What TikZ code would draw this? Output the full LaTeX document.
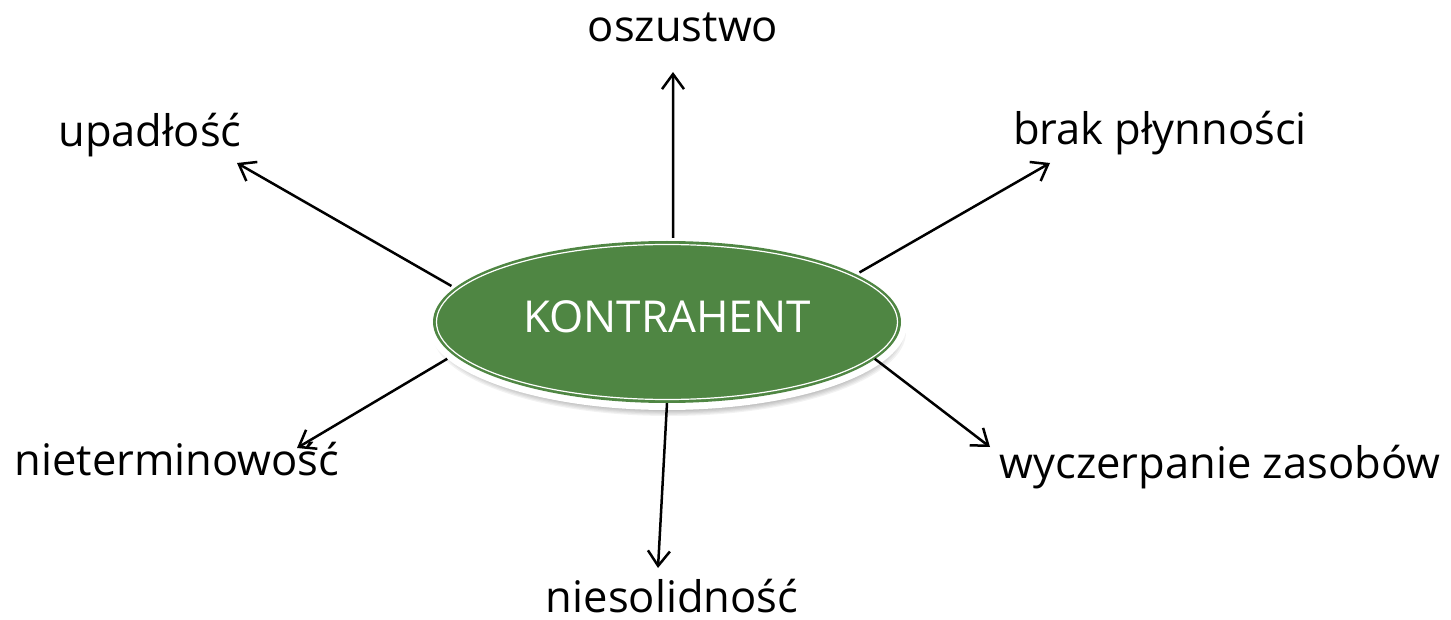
\documentclass[tikz,border=0pt]{standalone}
\usepackage{fontspec}
\setmainfont{Open Sans}
\usetikzlibrary{arrows.meta,shapes.geometric}
\definecolor{kgreen}{RGB}{79,134,67}
\tikzset{
  lbl/.style={anchor=base, inner sep=0pt, font=\fontsize{43.5}{50}\selectfont},
  conn/.style={line width=2.5pt, -{Straight Barb[length=15pt,width=22pt,line width=2.5pt]}},
}
\begin{document}
\begin{tikzpicture}[x=1pt,y=-1pt]
\useasboundingbox (0,0) rectangle (1451,620);

% soft shadow under the central ellipse
\foreach \d in {0,2,...,12}{
  \fill[black,opacity=0.05] (669,332) ellipse ({237-\d} and {84-\d*0.6});
}
% white halo, green body with inner white ring
\node[ellipse, fill=white, inner sep=0pt, minimum width=480pt, minimum height=172pt] (halo) at (667,324) {};
\node[ellipse, fill=kgreen, inner sep=0pt, minimum width=468pt, minimum height=162pt] (k) at (667,322) {};
\draw[white, line width=1.2pt] (667,322) ellipse (230.5 and 77.5);
\node[lbl, text=white, font=\fontsize{44}{50}\selectfont] (kt) at (667,332) {KONTRAHENT};

% labels
\node[lbl] (osz) at (683,42) {oszustwo};
\node[lbl] (upa) at (150,147) {upadłość};
\node[lbl] (bra) at (1160,145) {brak płynności};
\node[lbl] (nie) at (177,475) {nieterminowość};
\node[lbl] (sol) at (672,612) {niesolidność};
\node[lbl] (wyc) at (1220,478) {wyczerpanie zasobów};

% arrow tips near the labels
\coordinate (t-osz) at (673,72);
\coordinate (t-upa) at (237,163);
\coordinate (t-bra) at (1050,163);
\coordinate (t-nie) at (297,448);
\coordinate (t-sol) at (658,568);
\coordinate (t-wyc) at (990,447);

\draw[conn] (halo.86) -- (t-osz);
\draw[conn] (halo.170) -- (t-upa);
\draw[conn] (halo.15) -- (t-bra);
\draw[conn] (halo.189) -- (t-nie);
\draw[conn] ([yshift=7pt]halo.-90) -- (t-sol);
\draw[conn] ([xshift=-12pt]halo.-9) -- (t-wyc);
\end{tikzpicture}
\end{document}
